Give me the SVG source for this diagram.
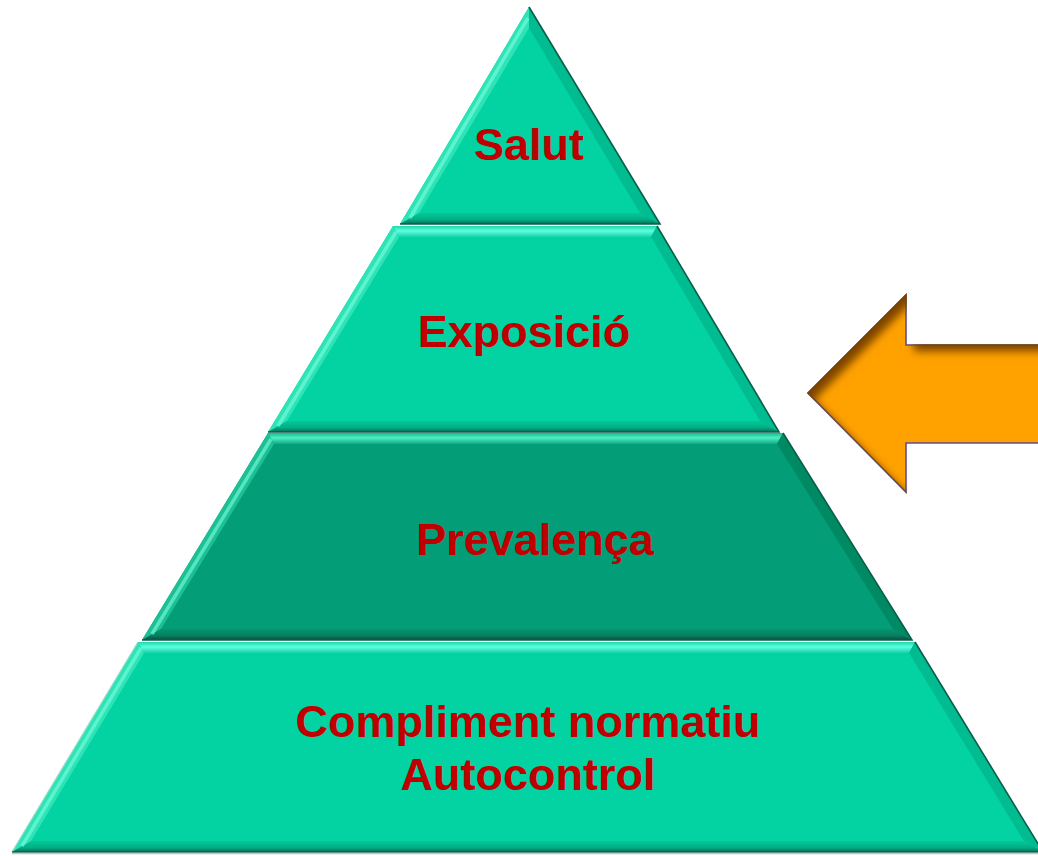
<svg xmlns="http://www.w3.org/2000/svg" width="1038" height="856" viewBox="0 0 1038 856">
  <defs>
    <style>
      .lbl { font-family: "Liberation Sans", Arial, sans-serif; font-weight: bold; font-size: 45px; fill: #C00000; text-anchor: middle; }
      .base { fill: #03D2A2; }
      .baseD { fill: #039E78; }
      .top { fill: url(#gTop); }
      .topD { fill: url(#gTopD); }
      .left { fill: #2EE3B6; }
      .leftD { fill: #1DBF95; }
      .right { fill: #00BC90; }
      .rightD { fill: #008A63; }
      .bot { fill: url(#gBot); }
      .botD { fill: url(#gBotD); }
      .hl { stroke: #7BFFE0; stroke-width: 3.5; opacity: 0.6; fill: none; }
      .edge { stroke: #0B5E49; stroke-width: 1.6; fill: none; }
      .ltedge { stroke: #9ADFCB; stroke-width: 1.2; fill: none; }
    </style>
    <linearGradient id="gTop" x1="0" y1="0" x2="0" y2="1">
      <stop offset="0" stop-color="#1FD8AA"/>
      <stop offset="0.45" stop-color="#5CFFE2"/>
      <stop offset="1" stop-color="#16D3A5"/>
    </linearGradient>
    <linearGradient id="gTopD" x1="0" y1="0" x2="0" y2="1">
      <stop offset="0" stop-color="#1BB98F"/>
      <stop offset="0.45" stop-color="#4CEFC6"/>
      <stop offset="1" stop-color="#10A880"/>
    </linearGradient>
    <linearGradient id="gBot" x1="0" y1="0" x2="0" y2="1">
      <stop offset="0" stop-color="#06C898"/>
      <stop offset="0.6" stop-color="#00AE86"/>
      <stop offset="1" stop-color="#0A6E55"/>
    </linearGradient>
    <linearGradient id="gBotD" x1="0" y1="0" x2="0" y2="1">
      <stop offset="0" stop-color="#05966F"/>
      <stop offset="0.6" stop-color="#067F60"/>
      <stop offset="1" stop-color="#084F3D"/>
    </linearGradient>
    <filter id="innerShadow" x="-10%" y="-10%" width="120%" height="120%" color-interpolation-filters="sRGB">
      <feOffset in="SourceAlpha" dx="7" dy="7" result="off"/>
      <feGaussianBlur in="off" stdDeviation="4" result="blur"/>
      <feComposite in="SourceAlpha" in2="blur" operator="out" result="rim"/>
      <feFlood flood-color="#7A4300" flood-opacity="1" result="col"/>
      <feComposite in="col" in2="rim" operator="in" result="shadow"/>
      <feMerge>
        <feMergeNode in="SourceGraphic"/>
        <feMergeNode in="shadow"/>
      </feMerge>
    </filter>
  </defs>
  <rect width="1038" height="856" fill="#FFFFFF"/>

  <g id="layer-salut">
    <polygon class="base" points="529,7 660,224 400,224"/>
    <polygon class="left" points="529,7 529,28 419,213 400,224"/>
    <polygon class="right" points="529,7 660,224 640,213 529,28"/>
    <polygon class="bot" points="400,224 660,224 640,213 419,213"/>
    <line class="hl" x1="528" y1="18" x2="410" y2="218"/>
    <polyline class="edge" points="529,7 660,224 400,224"/>
    <text class="lbl" x="529" y="160">Salut</text>
  </g>

  <g id="layer-exposicio">
    <polygon class="base" points="393,226 657,226 779,432 268,432"/>
    <polygon class="top" points="393,226 657,226 651,237 399,237"/>
    <polygon class="left" points="393,226 399,237 287,421 268,432"/>
    <polygon class="right" points="657,226 779,432 760,421 651,237"/>
    <polygon class="bot" points="268,432 779,432 760,421 287,421"/>
    <line class="hl" x1="396" y1="232" x2="278" y2="426"/>
    <polyline class="edge" points="657,226 779,432 268,432"/>
    <text class="lbl" x="524" y="347">Exposició</text>
  </g>

  <g id="layer-prevalenca">
    <polygon class="baseD" points="268,433 783,433 912,640 142,640"/>
    <polygon class="topD" points="268,433 783,433 777,444 274,444"/>
    <polygon class="leftD" points="268,433 274,444 161,629 142,640"/>
    <polygon class="rightD" points="783,433 912,640 893,629 777,444"/>
    <polygon class="botD" points="142,640 912,640 893,629 161,629"/>
    <line class="hl" x1="271" y1="439" x2="152" y2="634"/>
    <polyline class="edge" points="783,433 912,640 142,640"/>
    <text class="lbl" x="535" y="555">Prevalença</text>
  </g>

  <g id="layer-compliment">
    <polygon class="base" points="138,642 915,642 1043,852 12,852"/>
    <polygon class="top" points="138,642 915,642 909,653 144,653"/>
    <polygon class="left" points="138,642 144,653 31,841 12,852"/>
    <polygon class="right" points="915,642 1043,852 1024,841 909,653"/>
    <polygon class="bot" points="12,852 1043,852 1024,841 31,841"/>
    <line class="hl" x1="141" y1="648" x2="22" y2="846"/>
    <polyline class="ltedge" points="138,642 12,852"/>
    <polyline class="edge" points="915,642 1043,852 12,852"/>
    <line x1="12" y1="853.5" x2="1038" y2="853.5" stroke="#B8C8C2" stroke-width="1.5"/>
    <text class="lbl" x="528" y="737">Compliment normatiu</text>
    <text class="lbl" x="528" y="790">Autocontrol</text>
  </g>

  <g id="connectors">
    <polygon id="arrow" points="808,393 906,295 906,345 1045,345 1045,443 906,443 906,492" fill="#FFA200" stroke="#5E4F9C" stroke-width="1.6" stroke-linejoin="miter" filter="url(#innerShadow)"/>
  </g>
</svg>
